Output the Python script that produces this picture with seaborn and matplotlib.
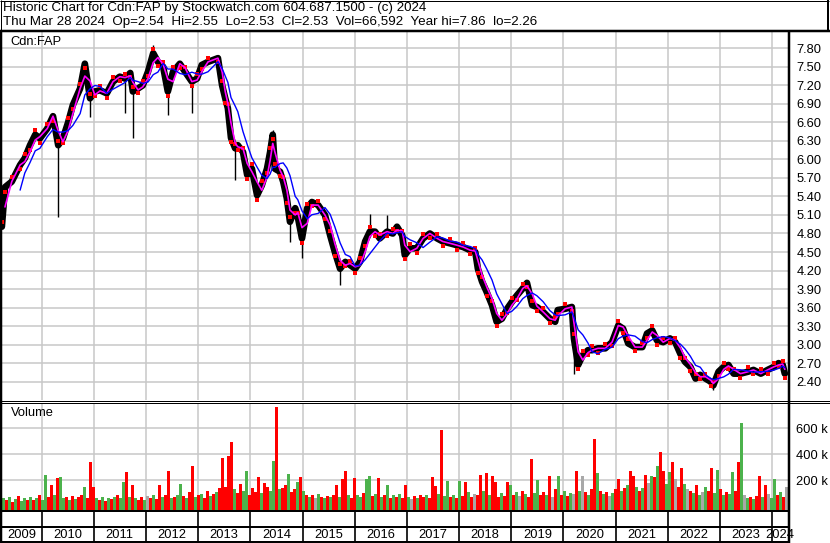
import numpy as np
import pandas as pd
import matplotlib
matplotlib.use("Agg")
import matplotlib.pyplot as plt
from matplotlib.lines import Line2D
import seaborn as sns

# --- Data ---

HEADER_1 = "Historic Chart for Cdn:FAP by Stockwatch.com 604.687.1500 - (c) 2024"
HEADER_2 = "Thu Mar 28 2024  Op=2.54  Hi=2.55  Lo=2.53  Cl=2.53  Vol=66,592  Year hi=7.86  lo=2.26"
SYMBOL = "Cdn:FAP"

# sample dates (decimal years) and closing prices
PRICE_T = [
    2009.24, 2009.30, 2009.43, 2009.59, 2009.68, 2009.78, 2009.88, 2009.97,
    2010.11, 2010.22, 2010.32, 2010.41, 2010.51, 2010.60, 2010.74, 2010.83, 2010.93,
    2011.02, 2011.12, 2011.25, 2011.37, 2011.50, 2011.60, 2011.70, 2011.75, 2011.85, 2011.94,
    2012.04, 2012.14, 2012.23, 2012.33, 2012.42, 2012.52, 2012.65, 2012.75, 2012.88, 2012.98,
    2013.07, 2013.19, 2013.38, 2013.46, 2013.52, 2013.57, 2013.63, 2013.71, 2013.76, 2013.86, 2013.94,
    2014.03, 2014.13, 2014.22, 2014.32, 2014.38, 2014.43, 2014.47, 2014.57, 2014.63, 2014.70,
    2014.76, 2014.86, 2014.91, 2014.99,
    2015.09, 2015.18, 2015.30, 2015.43, 2015.53, 2015.62, 2015.72, 2015.82, 2015.91,
    2016.01, 2016.10, 2016.20, 2016.29, 2016.39, 2016.48, 2016.62, 2016.73, 2016.81, 2016.91, 2016.96,
    2017.06, 2017.19, 2017.31, 2017.44, 2017.58, 2017.69, 2017.83, 2017.96,
    2018.08, 2018.21, 2018.31, 2018.36, 2018.44, 2018.53, 2018.63, 2018.72, 2018.82, 2018.92,
    2019.01, 2019.11, 2019.22, 2019.30, 2019.40, 2019.49, 2019.61, 2019.74, 2019.84, 2019.89,
    2020.03, 2020.16, 2020.20, 2020.28, 2020.37, 2020.47, 2020.55, 2020.66, 2020.80, 2020.93,
    2021.05, 2021.14, 2021.24, 2021.37, 2021.51, 2021.60, 2021.70, 2021.79, 2021.91,
    2022.04, 2022.14, 2022.24, 2022.33, 2022.43, 2022.53, 2022.62, 2022.72, 2022.82, 2022.87, 2022.97,
    2023.07, 2023.16, 2023.26, 2023.39, 2023.53, 2023.64, 2023.78, 2023.91,
    2024.03, 2024.12, 2024.20, 2024.24,
]
PRICE_CLOSE = [
    4.91, 5.55, 5.64, 5.91, 6.02, 6.23, 6.40, 6.34,
    6.50, 6.70, 6.23, 6.34, 6.60, 6.88, 7.15, 7.55, 6.99,
    7.10, 7.12, 7.07, 7.26, 7.34, 7.31, 7.40, 7.10, 7.15, 7.20,
    7.42, 7.72, 7.58, 7.50, 7.10, 7.42, 7.55, 7.42, 7.26, 7.31,
    7.53, 7.58, 7.64, 7.20, 6.99, 6.83, 6.35, 6.18, 6.23, 6.12, 5.75,
    5.85, 5.42, 5.58, 5.85, 6.12, 6.40, 5.85, 5.80, 5.64, 5.37,
    4.99, 5.21, 5.07, 4.72,
    5.21, 5.31, 5.26, 5.10, 4.77, 4.50, 4.23, 4.34, 4.29,
    4.23, 4.34, 4.67, 4.83, 4.83, 4.72, 4.83, 4.80, 4.91, 4.77, 4.45,
    4.56, 4.56, 4.72, 4.80, 4.72, 4.67, 4.64, 4.61,
    4.58, 4.53, 4.50, 4.23, 4.02, 3.85, 3.64, 3.37, 3.42, 3.58,
    3.69, 3.80, 3.91, 4.00, 3.64, 3.61, 3.53, 3.42, 3.37, 3.56,
    3.58, 3.61, 3.10, 2.67, 2.83, 2.91, 2.91, 2.94, 2.94, 3.04,
    3.31, 3.26, 3.02, 2.96, 2.96, 3.18, 3.23, 3.07, 3.04,
    3.10, 3.04, 2.85, 2.72, 2.64, 2.45, 2.51, 2.45, 2.40, 2.34, 2.56,
    2.64, 2.67, 2.53, 2.53, 2.56, 2.59, 2.53, 2.59,
    2.64, 2.70, 2.67, 2.53,
]

# single-day spikes (date, low, high)
WICK_T = [2010.32, 2010.93, 2011.60, 2011.75, 2012.42, 2012.88, 2013.71, 2014.76,
          2014.99, 2015.72, 2012.14, 2013.38, 2014.43, 2016.29, 2016.62, 2022.87, 2020.20]
WICK_LO = [5.07, 6.69, 6.75, 6.34, 6.72, 6.75, 5.67, 4.67,
           4.40, 3.96, 7.60, 7.50, 6.20, 4.80, 4.75, 2.26, 2.53]
WICK_HI = [6.40, 7.00, 7.30, 7.20, 7.20, 7.30, 6.30, 5.10,
           4.90, 4.30, 7.86, 7.69, 6.48, 5.12, 5.10, 2.45, 3.60]

# volume in thousands, one bar per three weeks from Apr 2009
VOLUME_K = [
    60, 45, 70, 35, 55, 80, 40, 65, 50, 75,
    45, 60, 85, 50, 244, 70, 167, 90, 218, 228,
    60, 75, 45, 80, 55, 70, 90, 151, 65, 338,
    146, 60, 50, 75, 40, 65, 55, 70, 85, 60,
    185, 262, 75, 167, 60, 50, 70, 45, 80, 65,
    90, 55, 167, 70, 85, 274, 60, 75, 90, 172,
    80, 65, 110, 313, 70, 85, 95, 60, 120, 80,
    95, 110, 140, 369, 150, 385, 492, 130, 100, 172,
    120, 269, 90, 140, 110, 223, 100, 180, 150, 120,
    351, 762, 130, 140, 160, 249, 110, 130, 185, 228,
    120, 90, 70, 85, 60, 95, 75, 65, 80, 70,
    90, 160, 75, 210, 274, 85, 65, 218, 90, 75,
    100, 210, 236, 80, 95, 218, 70, 90, 167, 60,
    85, 70, 95, 60, 167, 75, 55, 80, 65, 90,
    70, 85, 60, 223, 159, 95, 590, 80, 197, 75,
    90, 65, 197, 80, 185, 110, 70, 95, 85, 244,
    120, 254, 90, 236, 185, 75, 100, 80, 185, 167,
    90, 110, 80, 120, 95, 70, 364, 100, 203, 85,
    110, 90, 236, 75, 130, 236, 90, 120, 80, 105,
    95, 269, 120, 236, 110, 85, 130, 518, 254, 120,
    95, 110, 80, 100, 130, 210, 115, 140, 160, 269,
    236, 150, 120, 140, 244, 180, 236, 223, 313, 415,
    274, 170, 262, 338, 210, 150, 295, 170, 130, 120,
    100, 160, 90, 110, 151, 120, 295, 100, 279, 130,
    85, 110, 95, 262, 120, 338, 638, 90, 60, 75,
    55, 80, 236, 70, 167, 95, 60, 210, 85, 110,
    70, 151,
]
# r = down, g = up, x = unchanged
VOLUME_DIR = (
    "grgrgrggrg" "rgrggrrgrg" "grgrgrrgrr" "rgrgrgrgrg" "grgrgrrgxr"
    "grrgrrgrgg" "rgrrgrgrrg" "rgrrrrrgrr" "ggrrrrgrrg" "grgrrgrrgr"
    "grgrxgrgrg" "rrgrrgrrgg" "rggrgrgrgr" "grgrrgxrgr" "rgrrrgrggr"
    "grgrrgrxrr" "grgrrrgrrg" "rgxrgrrggr" "rgrxrgrgrg" "xrgxrgrrgr"
    "grxgrrgrgr" "rgrgrxgrgr" "rggrxrrgxr" "grgxgrrggr" "grggrrgxgr"
    "grrgrxggrg" "rx"
)

YEARS = list(range(2009, 2025))
PRICE_TICKS = [7.80, 7.50, 7.20, 6.90, 6.60, 6.30, 6.00, 5.70, 5.40, 5.10,
               4.80, 4.50, 4.20, 3.90, 3.60, 3.30, 3.00, 2.70, 2.40]
VOL_TICKS = [200, 400, 600]

# --- Layout helpers (pixel coordinates of the 830x543 canvas) ---
W, H = 830, 543
XLIM = (2009.243, 2024.301)
PX_PER_YEAR = 52.2


def box(x0, y0, x1, y1):
    return [x0 / W, 1 - y1 / H, (x1 - x0) / W, (y1 - y0) / H]


def pline(fig, x0, y0, x1, y1, lw=1.0):
    fig.add_artist(Line2D([x0 / W, x1 / W], [1 - y0 / H, 1 - y1 / H],
                          transform=fig.transFigure, color="black",
                          lw=lw * 0.72, solid_capstyle="butt"))


def to_datetime(years):
    years = np.asarray(years, dtype=float)
    base = pd.to_datetime(years.astype(int).astype(str), format="%Y")
    return base + pd.to_timedelta((years % 1) * 365.25, unit="D")


sns.set_theme(style="white")
plt.rcParams["font.family"] = ["Liberation Sans", "DejaVu Sans"]
FS = 9.3
GRID = "#c8c8c8"

price = pd.DataFrame({"t": PRICE_T, "close": PRICE_CLOSE})
price.index = to_datetime(price["t"])
price["ma_fast"] = price["close"].rolling("40D").mean()
price["ma_slow"] = price["close"].rolling("140D").mean()
price.loc[price["t"] < 2009.30, "ma_fast"] = np.nan
price.loc[price["t"] < 2009.55, "ma_slow"] = np.nan
price = price.reset_index(drop=True)

fig = plt.figure(figsize=(W / 100, H / 100), dpi=100)
fig.patch.set_facecolor("white")

# --- Price panel ---
ax = fig.add_axes(box(2, 31, 788, 400))
ax.set_xlim(*XLIM)
ax.set_ylim(2.103, 8.080)
ax.set_xticks(YEARS[1:])
ax.set_yticks(PRICE_TICKS)
ax.grid(True, color=GRID, lw=1.1)
ax.yaxis.tick_right()
ax.set_yticklabels([f"{v:.2f}" for v in PRICE_TICKS])
ax.tick_params(axis="y", length=0, pad=6, labelsize=FS, labelcolor="black")
ax.tick_params(axis="x", length=0, labelbottom=False)
for s in ax.spines.values():
    s.set_visible(False)

ax.vlines(WICK_T, WICK_LO, WICK_HI, color="black", lw=1.0, zorder=2)
sns.lineplot(data=price, x="t", y="close", color="black", lw=4.8,
             estimator=None, sort=False, ax=ax, zorder=3)
ax.scatter(price["t"][::2], price["close"][::2] + 0.07, s=6, color="#ff0000",
           marker="s", lw=0, zorder=4)
ax.scatter(price["t"][1::2], price["close"][1::2] - 0.07, s=6, color="#ff0000",
           marker="s", lw=0, zorder=4)
sns.lineplot(data=price, x="t", y="ma_fast", color="#ff00ff", lw=1.2,
             estimator=None, sort=False, ax=ax, zorder=5)
sns.lineplot(data=price, x="t", y="ma_slow", color="#0000ff", lw=1.0,
             estimator=None, sort=False, ax=ax, zorder=6)
ax.set_xlabel("")
ax.set_ylabel("")
ax.text(8 / 786, 1 - 11 / 369, SYMBOL, transform=ax.transAxes,
        fontsize=FS, ha="left", va="center", color="black")

# --- Volume panel ---
axv = fig.add_axes(box(2, 403, 788, 510))
axv.set_xlim(*XLIM)
VOL_BASE = -28.5
axv.set_ylim(VOL_BASE, 794.6)
axv.set_xticks(YEARS[1:])
axv.set_yticks(VOL_TICKS)
axv.grid(True, color=GRID, lw=1.1)
axv.yaxis.tick_right()
axv.set_yticklabels([f"{v} k" for v in VOL_TICKS])
axv.tick_params(axis="y", length=0, pad=6, labelsize=FS, labelcolor="black")
axv.tick_params(axis="x", length=0, labelbottom=False)
for s in axv.spines.values():
    s.set_visible(False)

colour_map = {"r": "#ff0000", "g": "#4cb24c", "x": "#a8a8a8"}
vol = pd.DataFrame({"vol": VOLUME_K, "dir": list(VOLUME_DIR)})
vol["t"] = XLIM[0] + (np.arange(len(vol)) * 3 + 1.5) / PX_PER_YEAR
axv.bar(vol["t"], vol["vol"] - VOL_BASE, bottom=VOL_BASE, width=2.6 / PX_PER_YEAR,
        color=[colour_map[d] for d in vol["dir"]], lw=0, zorder=3)
axv.text(9 / 786, 1 - 10 / 107, "Volume", transform=axv.transAxes,
         fontsize=FS, ha="left", va="center", color="black")

# --- Year row ---
axy = fig.add_axes(box(2, 510, 788, 543))
axy.set_xlim(*XLIM)
axy.set_ylim(0, 1)
axy.axis("off")
for yr in YEARS:
    left, right = max(yr, XLIM[0]), min(yr + 1, XLIM[1])
    axy.text((left + right) / 2, 0.25, str(yr), ha="center", va="center",
             fontsize=FS, color="black", clip_on=False)
for yr in YEARS[1:]:
    axy.axvline(yr, 0, 1, color="black", lw=1.2)

# --- Frame lines ---
pline(fig, 0, 0.5, 829, 0.5, 1)           # header top
pline(fig, 0.5, 0, 0.5, 31, 1)            # header left
pline(fig, 828, 0, 828, 31, 2)            # header right
pline(fig, 0, 30.5, 830, 30.5, 2.5)       # header bottom
pline(fig, 1, 31, 1, 543, 2.5)            # left border
pline(fig, 789, 31, 789, 543, 2.5)        # price axis
pline(fig, 0, 400.5, 830, 400.5, 1)       # double separator
pline(fig, 0, 402.5, 830, 402.5, 1)
pline(fig, 0, 510.5, 789, 510.5, 2)
pline(fig, 0, 527, 789, 527, 2)
pline(fig, 0, 542, 789, 542, 2)

fig.text(3 / W, 1 - 8.5 / H, HEADER_1, fontsize=9.65, ha="left", va="center", color="black")
fig.text(3 / W, 1 - 22 / H, HEADER_2, fontsize=9.65, ha="left", va="center", color="black")

fig.savefig("out.png", dpi=100, facecolor="white")
